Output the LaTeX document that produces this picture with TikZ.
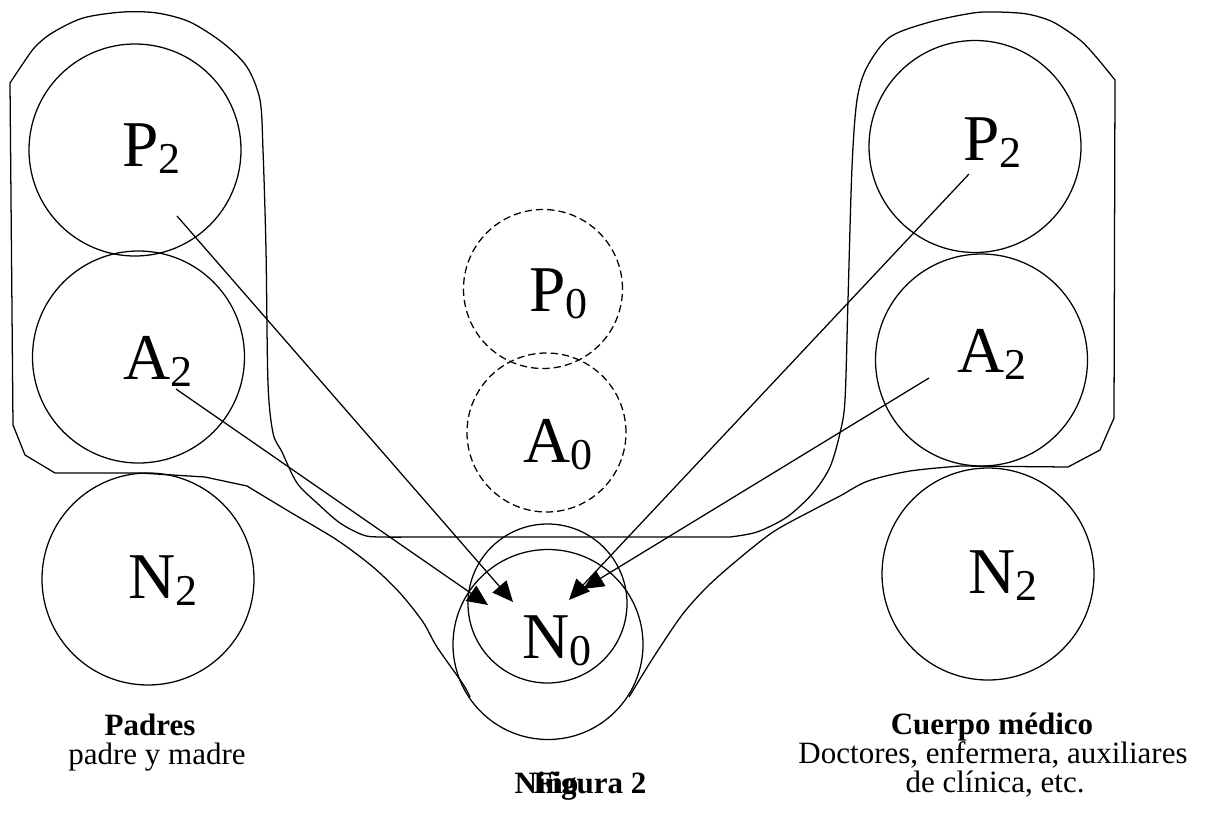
\documentclass[tikz,border=0pt]{standalone}
\usepackage{fontspec}
\setmainfont{Liberation Serif}
\usetikzlibrary{arrows.meta,calc}
\newcommand\subl[2]{#1\raisebox{-5.5pt}{\fontsize{33}{35}\selectfont #2}}
\begin{document}
\begin{tikzpicture}[x=0.75pt,y=-0.75pt,
  line width=0.95pt,
  blob/.style={draw,circle,inner sep=0pt,minimum size=159pt},
  ghost/.style={draw,circle,dash pattern=on 5.5pt off 3pt,inner sep=0pt,minimum size=119.25pt},
  big/.style={anchor=base west,inner sep=0pt,font=\fontsize{49}{52}\selectfont},
  arr/.style={-{Triangle[length=15.5pt,width=13.8pt]}},
  captxt/.style={inner sep=0pt,anchor=base,font=\fontsize{23.25}{26}\selectfont},
  captxtb/.style={captxt,font=\fontsize{23.25}{26}\selectfont\bfseries},
]
\useasboundingbox (0,0) rectangle (1207,814);

% outline enclosing both groups
\draw[line join=round]
  plot[smooth,tension=0.5] coordinates {(470,697) (463,684) (437,647) (423,622) (400,593) (373,567) (337,540) (290,512) (247,486)}
  -- (205,477) -- (140,473) -- (55,473) -- (25,455) -- (13,425) -- (10,83)
  -- plot[smooth,tension=0.5] coordinates {(10,83) (22,65) (35,47) (52,33) (83,18) (123,12) (157,13) (190,22) (223,43) (247,67) (260,100) (263,150) (266,250) (268,383) (273,433) (282,452) (297,483) (317,503) (340,523) (363,535) (380,537) (420,537)}
  -- (730,537)
  -- plot[smooth,tension=0.5] coordinates {(730,537) (757,532) (787,517) (813,493) (830,467) (840,433) (845,400) (848,300) (852,167) (857,100) (867,67) (890,37) (930,22) (973,13) (997,12) (1027,14) (1053,22) (1080,40) (1097,58) (1115,80)}
  -- (1114,418) -- (1100,450) -- (1068,467) -- (960,466)
  -- plot[smooth,tension=0.5] coordinates {(960,466) (910,471) (868,481) (840,496) (813,510) (773,532) (735,562) (707,587) (682,615) (653,658) (629,697)};

% circles
\node[blob] (lP2) at (135,150) {};
\node[blob] (lA2) at (138.5,357) {};
\node[blob] (lN2) at (148,579) {};
\node[blob] (rP2) at (975,146.5) {};
\node[blob] (rA2) at (981.5,360) {};
\node[blob] (rN2) at (988,574) {};
\node[ghost] (P0) at (543,289) {};
\node[ghost] (A0) at (546.5,432.5) {};
\node[draw,circle,inner sep=0pt,minimum size=119.25pt] (N0in) at (547.5,603.5) {};
\node[draw,circle,inner sep=0pt,minimum size=142.5pt] (N0out) at (548,644.5) {};

% labels
\node[big] (tlP2) at (122,166) {\subl{P}{2}};
\node[big] (tlA2) at (123,379) {\subl{A}{2}};
\node[big] (tlN2) at (128,598) {\subl{N}{2}};
\node[big] (trP2) at (963,160) {\subl{P}{2}};
\node[big] (trA2) at (957,372) {\subl{A}{2}};
\node[big] (trN2) at (968,593) {\subl{N}{2}};
\node[big] (tP0) at (529,311) {\subl{P}{0}};
\node[big] (tA0) at (523,462) {\subl{A}{0}};
\node[big] (tN0) at (522,658) {\subl{N}{0}};

% arrows
\coordinate (slP2) at (177,216); \coordinate (elP2) at (513,602);
\coordinate (slA2) at (176,389); \coordinate (elA2) at (488,605);
\coordinate (srP2) at (969,174); \coordinate (erP2) at (569,600);
\coordinate (srA2) at (929,378); \coordinate (erA2) at (583,589);
\draw[arr] (slP2) -- (elP2);
\draw[arr] (slA2) -- (elA2);
\draw[arr] (srP2) -- (erP2);
\draw[arr] (srA2) -- (erA2);

% captions
\node[captxtb] (padres) at (150,735) {Padres};
\node[captxt] (padresd) at (157,764) {padre y madre};
\node[captxtb] (cuerpo) at (992,734) {Cuerpo médico};
\node[captxt] (doctores) at (993,763) {Doctores, enfermera, auxiliares};
\node[captxt] (clinica) at (995,792) {de clínica, etc.};
\node[captxtb,anchor=base west] (nino) at (514,793) {Niño};
\node[captxtb,anchor=base west] (figura) at (533,793) {Figura 2};
\end{tikzpicture}
\end{document}
